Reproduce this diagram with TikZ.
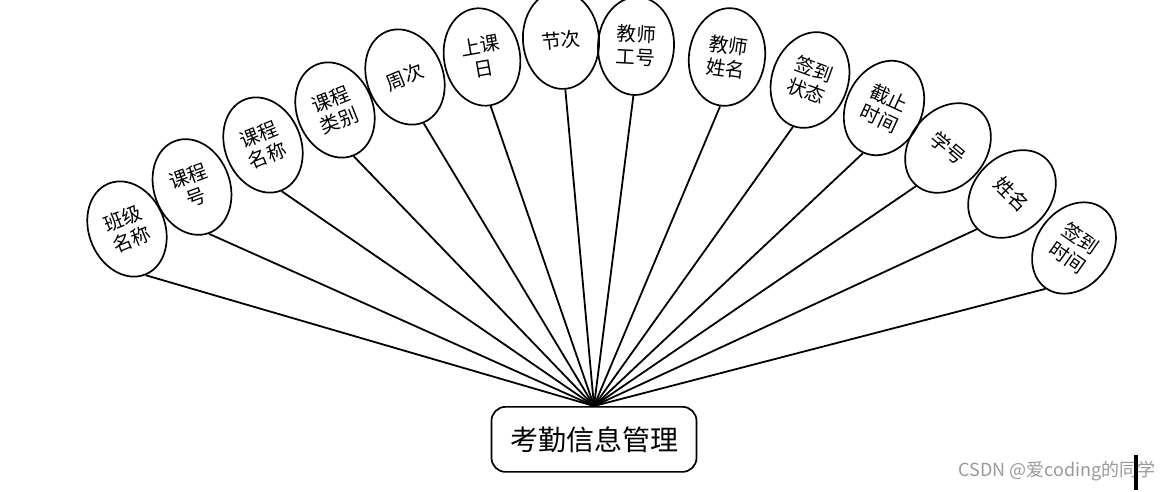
\documentclass[tikz,border=0pt]{standalone}
\usepackage{fontspec}
\setmainfont{Noto Sans CJK SC}
\usetikzlibrary{shapes.geometric}
\begin{document}
\begin{tikzpicture}[x=1pt,y=-1pt,
  attr/.style={draw=black,line width=1.7pt,ellipse,minimum width=76pt,minimum height=98pt,inner sep=0pt,align=center,font=\fontsize{19.5}{23}\selectfont},
  spoke/.style={line width=1.8pt,black},
  entity/.style={draw=black,line width=1.7pt,rounded corners=14pt,minimum width=205pt,minimum height=65pt,inner sep=0pt,font=\fontsize{28}{32}\selectfont}]
\useasboundingbox (0,0) rectangle (1170,492);
\coordinate (hub) at (594,406);
\node[entity,anchor=north] (main) at (hub) {考勤信息管理};
\node[attr,rotate=22] (e1) at (127,229) {班级\\名称};
\node[attr,rotate=20] (e2) at (192,187) {课程\\号};
\node[attr,rotate=22] (e3) at (263,145) {课程\\名称};
\node[attr,rotate=22] (e4) at (335,110) {课程\\类别};
\node[attr,rotate=22] (e5) at (405,77) {周次};
\node[attr,rotate=10] (e6) at (482,57) {上课\\日};
\node[attr,rotate=5] (e7) at (561,40) {节次};
\node[attr,rotate=-3] (e8) at (636,46) {教师\\工号};
\node[attr,rotate=-8] (e9) at (727,57) {教师\\姓名};
\node[attr,rotate=-20] (e10) at (810,80) {签到\\状态};
\node[attr,rotate=-25] (e11) at (884,108) {截止\\时间};
\node[attr,rotate=-40] (e12) at (948,148) {学号};
\node[attr,rotate=-45] (e13) at (1012,194) {姓名};
\node[attr,rotate=-35] (e14) at (1074,248) {签到\\时间};
\foreach \i in {1,...,14} {\draw[spoke] (hub) -- (e\i.south);}
\node[anchor=east,text=black!40,font=\fontsize{18}{20}\selectfont,inner sep=0pt] (wm) at (1156,471) {CSDN @爱coding的同学};
\fill[black] (1134,455) rectangle (1138,490);
\end{tikzpicture}
\end{document}
